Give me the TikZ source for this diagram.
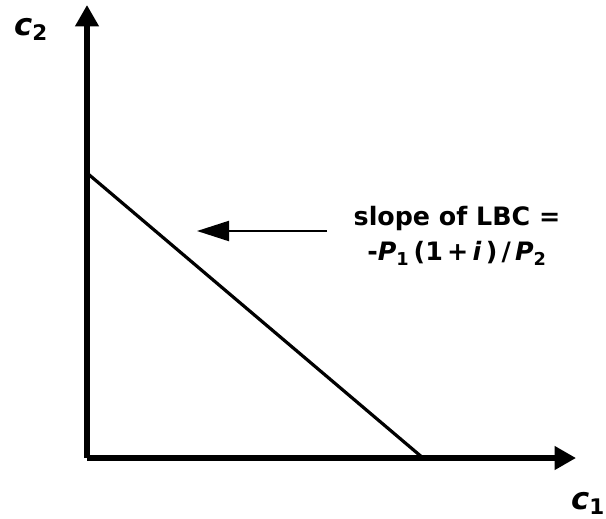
\documentclass[tikz,border=0pt]{standalone}
\usepackage{fontspec}
\setmainfont{DejaVu Sans}
\usetikzlibrary{arrows.meta}
\begin{document}
\begin{tikzpicture}[
        x=0.75pt, y=-0.75pt,
        axis/.style={draw=black, line width=3.8pt, -{Triangle[length=16pt, width=17pt]}},
        lbc/.style={draw=black, line width=2.4pt},
        pointer/.style={draw=black, line width=1.6pt, -{Triangle[length=24pt, width=15pt]}},
        lbl/.style={font=\fontsize{19}{26}\selectfont\bfseries, inner sep=0pt},
        axlbl/.style={font=\fontsize{23}{26}\selectfont\bfseries, inner sep=0pt},
        ]
        % Canvas
        \useasboundingbox (0,0) rectangle (606,518);
        % Axes
        \coordinate (o) at (87,458);
        \coordinate (ytip) at (87,5);
        \coordinate (xtip) at (576,458);
        \draw[axis] (o) -- (ytip);
        \draw[axis] (o) -- (xtip);
        \node[axlbl] (c2) at (31,29) {\textit{c}\textsubscript{2}};
        \node[axlbl] (c1) at (588,503) {\textit{c}\textsubscript{1}};
        % Lifetime budget constraint
        \coordinate (lbcTop) at (87,173);
        \coordinate (lbcEnd) at (423,458);
        \draw[lbc] (lbcTop) -- (lbcEnd);
        % Slope label and pointer
        \node[lbl, align=center] (slope) at (457,236) {slope of LBC =\\
            -\textit{P}\textsubscript{1}\,(1\,+\,\textit{i}\,)\,/\,\textit{P}\textsubscript{2}};
        \coordinate (ptail) at (327,231);
        \coordinate (ptip) at (197,231);
        \draw[pointer] (ptail) -- (ptip);
\end{tikzpicture}
\end{document}
